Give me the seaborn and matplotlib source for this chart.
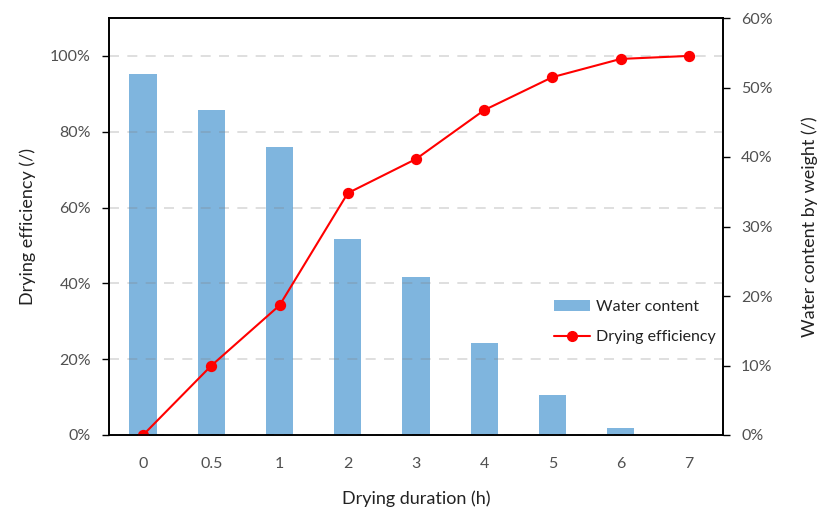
import matplotlib
matplotlib.use("Agg")
import matplotlib.pyplot as plt
import seaborn as sns
import pandas as pd
import numpy as np
from matplotlib.ticker import FuncFormatter, FixedLocator
from matplotlib.patches import Patch
from matplotlib.lines import Line2D

durations = ["0", "0.5", "1", "2", "3", "4", "5", "6", "7"]
water_content = [52.0, 46.8, 41.5, 28.2, 22.7, 13.2, 5.8, 1.0, 0.0]
drying_efficiency = [0.0, 18.3, 34.2, 63.8, 72.8, 85.7, 94.4, 99.2, 100.0]

df = pd.DataFrame({"duration": durations, "water": water_content, "eff": drying_efficiency})

sns.set_theme(style="white")
plt.rcParams["font.family"] = ["Lato", "DejaVu Sans"]

bar_color = "#7FB5DE"
tick_color = "#505050"

fig = plt.figure(figsize=(8.22, 5.08), dpi=100)
ax = fig.add_axes([109/822, 73/508, 614/822, 417/508])
ax2 = ax.twinx()

sns.barplot(data=df, x="duration", y="water", order=durations, ax=ax2,
            color=bar_color, saturation=1, width=0.4, edgecolor="none")
sns.pointplot(data=df, x="duration", y="eff", order=durations, ax=ax,
              color="#FF0000", markers="o", markersize=7, linewidth=1.5)

ax.set_zorder(ax2.get_zorder() + 1)
ax.patch.set_visible(False)

n = len(durations)
for a in (ax, ax2):
    a.set_xlim(-0.5, n - 0.5)
ax.set_ylim(0, 110)
ax2.set_ylim(0, 60)

ax.yaxis.set_major_locator(FixedLocator([0, 20, 40, 60, 80, 100]))
ax2.yaxis.set_major_locator(FixedLocator([0, 10, 20, 30, 40, 50, 60]))
pct = FuncFormatter(lambda v, p: f"{v:.0f}%")
ax.yaxis.set_major_formatter(pct)
ax2.yaxis.set_major_formatter(pct)

ax.set_xticks(range(n))
ax.set_xticklabels(durations)
ax.set_xticks(np.arange(-0.5, n, 1.0), minor=True)
ax.tick_params(axis="x", which="major", length=0, pad=16, labelsize=11.5, labelcolor=tick_color)
ax.tick_params(axis="x", which="minor", length=5, width=1, color="black", direction="out")
ax2.tick_params(axis="x", which="both", length=0, labelbottom=False)

ax.tick_params(axis="y", length=5, width=1, color="black", direction="out", labelsize=11.5,
               labelcolor=tick_color, pad=8, left=True)
ax2.tick_params(axis="y", length=5, width=1, color="black", direction="out", labelsize=11.5,
                labelcolor=tick_color, pad=8, right=True)

ax.yaxis.grid(True, linestyle=(0, (6, 5)), color="#808080", alpha=0.3, linewidth=1.2)
ax.xaxis.grid(False)
ax2.grid(False)

for a in (ax, ax2):
    for s in a.spines.values():
        s.set_visible(True)
        s.set_color("black")
        s.set_linewidth(1.2)

ax.set_xlabel("Drying duration (h)", fontsize=13, color="#222222", labelpad=14)
ax.set_ylabel("Drying efficiency (/)", fontsize=13, color="#222222", labelpad=10)
ax2.set_ylabel("Water content by weight (/)", fontsize=13, color="#222222", labelpad=21)

handles = [Patch(facecolor=bar_color, edgecolor="none"),
           Line2D([], [], color="#FF0000", marker="o", markersize=7, linewidth=1.5)]
ax.legend(handles, ["Water content", "Drying efficiency"], loc="center left",
          bbox_to_anchor=(540/822, (508-322)/508), bbox_transform=fig.transFigure,
          frameon=False, fontsize=11.5, handlelength=2.2, labelspacing=1.0,
          handletextpad=0.4, labelcolor="#222222")

fig.savefig("out.png", dpi=100)
